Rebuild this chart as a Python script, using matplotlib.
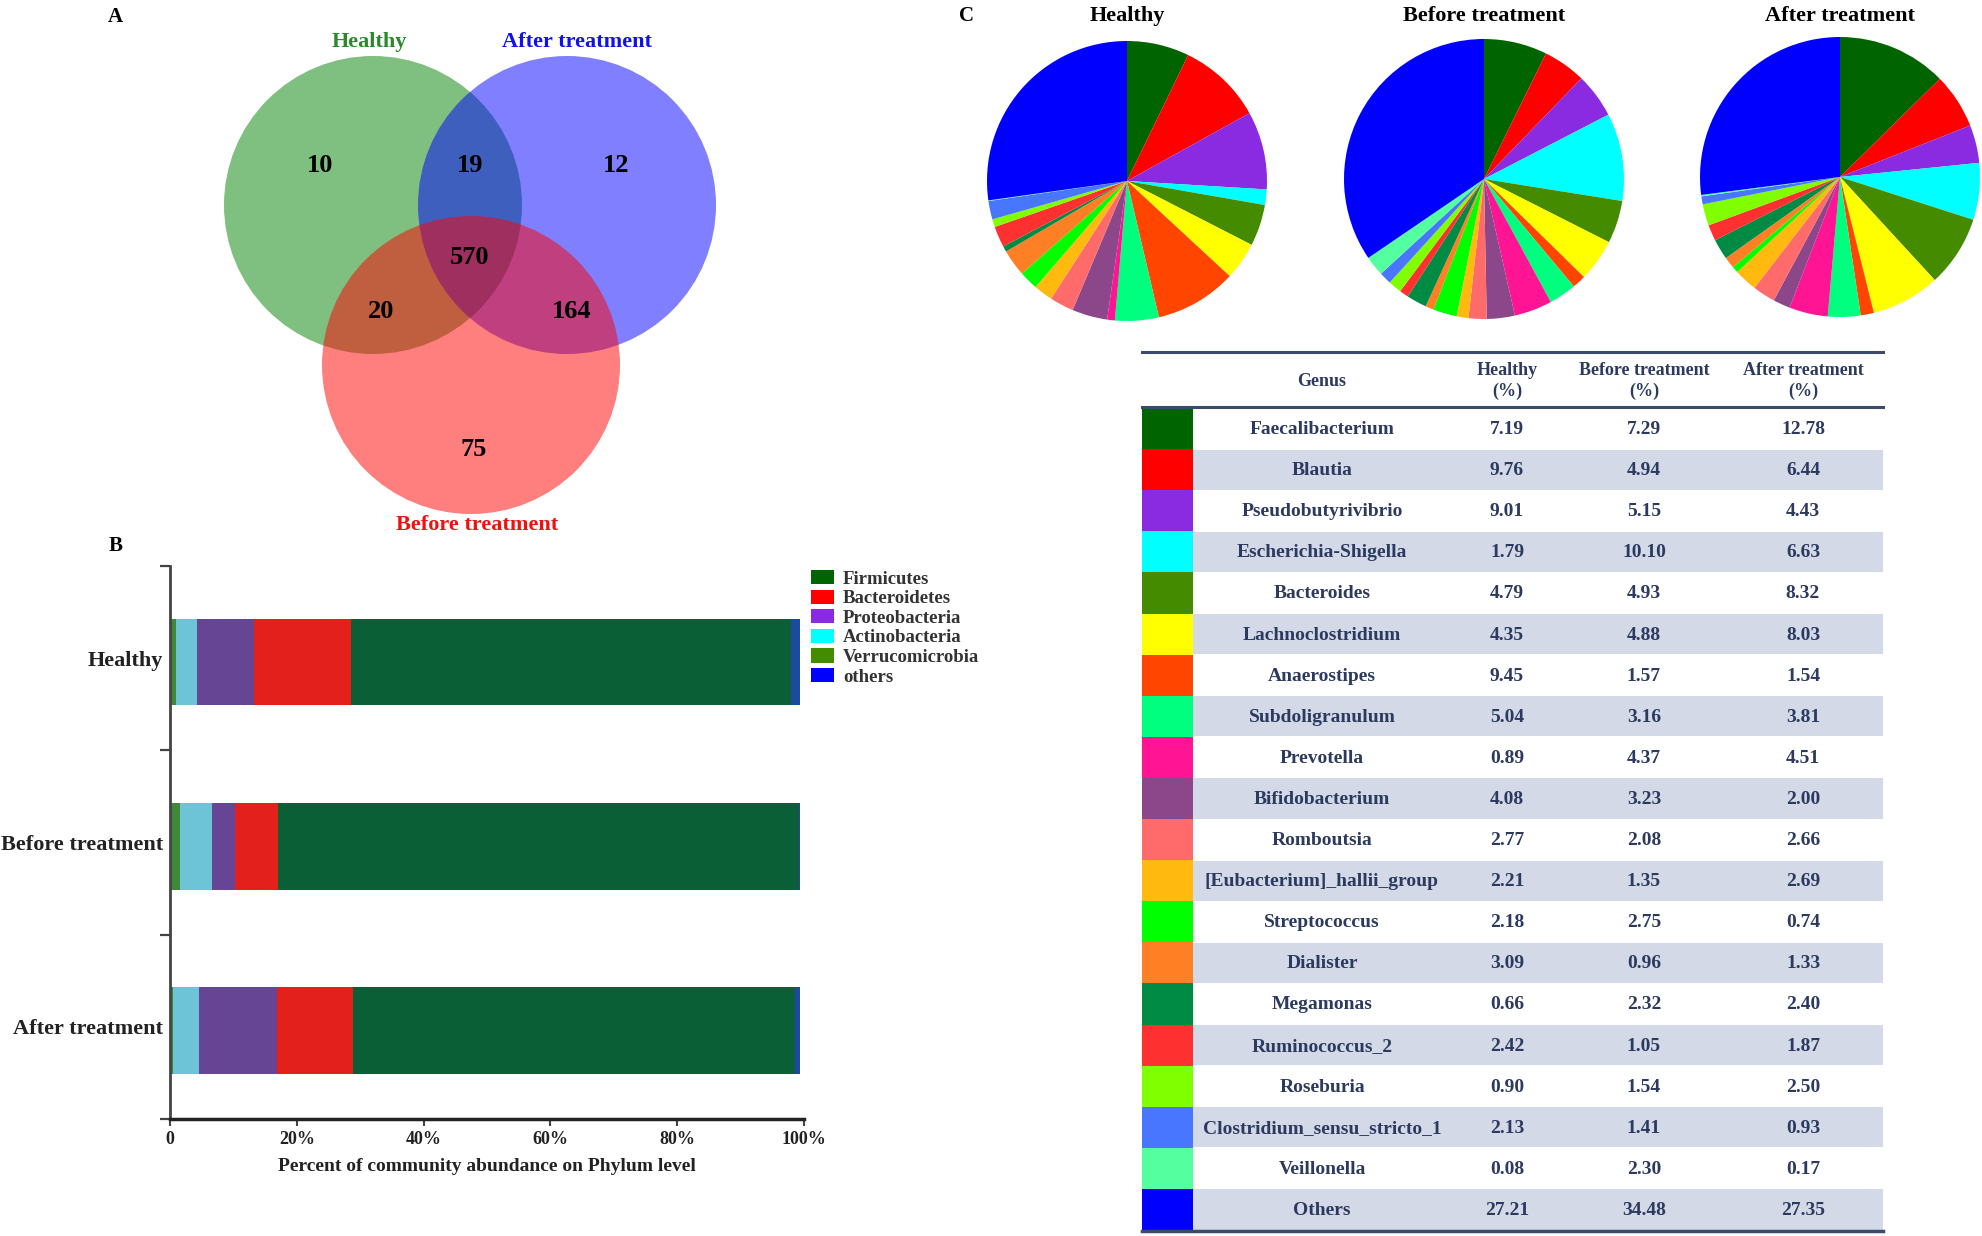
import numpy as np
import matplotlib.pyplot as plt
from matplotlib.patches import Circle, Rectangle, Patch

plt.rcParams['font.family'] = ['Liberation Serif', 'DejaVu Serif']
plt.rcParams['font.weight'] = 'bold'
plt.rcParams['axes.labelweight'] = 'bold'

W, H = 1982, 1236

# ---- panel A: Venn counts
VENN_NAMES = ['Healthy', 'After treatment', 'Before treatment']
VENN_COLORS = ['#008000', '#0000ff', '#ff0000']
VENN_LABEL_COLORS = ['#2a8a2a', '#1010f0', '#f01010']
VENN_REGIONS = ['H', 'HA', 'A', 'HAB', 'HB', 'AB', 'B']
VENN_COUNTS = [10, 19, 12, 570, 20, 164, 75]

# ---- panel B: phylum composition (%), drawn left to right
GROUPS = ['Healthy', 'Before treatment', 'After treatment']
PHYLA = ['Verrucomicrobia', 'Actinobacteria', 'Proteobacteria', 'Bacteroidetes', 'Firmicutes', 'others']
VERRUCO = [1.0, 1.6, 0.4]
ACTINO = [3.2, 5.1, 4.1]
PROTEO = [9.1, 3.5, 12.3]
BACTERO = [15.2, 6.9, 12.0]
FIRMI = [69.5, 82.1, 69.8]
OTHERS = [1.3, 0.2, 0.7]
BAR_COLORS = ['#3f8a3a', '#6cc4d6', '#664595', '#e3201b', '#0b5f36', '#1c4aa0']
LEGEND_ORDER = ['Firmicutes', 'Bacteroidetes', 'Proteobacteria', 'Actinobacteria', 'Verrucomicrobia', 'others']
LEGEND_COLORS = ['#006400', '#ff0000', '#8a2be2', '#00ffff', '#458b00', '#0000ff']

# ---- panel C: genus level (%)
GENERA = ['Faecalibacterium', 'Blautia', 'Pseudobutyrivibrio', 'Escherichia-Shigella', 'Bacteroides',
          'Lachnoclostridium', 'Anaerostipes', 'Subdoligranulum', 'Prevotella', 'Bifidobacterium',
          'Romboutsia', '[Eubacterium]_hallii_group', 'Streptococcus', 'Dialister', 'Megamonas',
          'Ruminococcus_2', 'Roseburia', 'Clostridium_sensu_stricto_1', 'Veillonella', 'Others']
HEALTHY = [7.19, 9.76, 9.01, 1.79, 4.79, 4.35, 9.45, 5.04, 0.89, 4.08,
           2.77, 2.21, 2.18, 3.09, 0.66, 2.42, 0.90, 2.13, 0.08, 27.21]
BEFORE = [7.29, 4.94, 5.15, 10.10, 4.93, 4.88, 1.57, 3.16, 4.37, 3.23,
          2.08, 1.35, 2.75, 0.96, 2.32, 1.05, 1.54, 1.41, 2.30, 34.48]
AFTER = [12.78, 6.44, 4.43, 6.63, 8.32, 8.03, 1.54, 3.81, 4.51, 2.00,
         2.66, 2.69, 0.74, 1.33, 2.40, 1.87, 2.50, 0.93, 0.17, 27.35]
GENUS_COLORS = ['#006400', '#ff0000', '#8a2be2', '#00ffff', '#458b00', '#ffff00', '#ff4500', '#00ff7f',
                '#ff1493', '#8b4789', '#ff6a6a', '#ffb90f', '#00ff00', '#ff7f24', '#008b45', '#ff3030',
                '#7fff00', '#4876ff', '#54ff9f', '#0000ff']

TXT = '#2d3a60'
LINE = '#3c4a6b'
SHADE = '#d3d9e7'


def px_rect(x0, y0, x1, y1):
    return [x0 / W, 1 - y1 / H, (x1 - x0) / W, (y1 - y0) / H]


fig = plt.figure(figsize=(W / 100, H / 100), dpi=100)

# ---------------- A: Venn
ax = fig.add_axes(px_rect(0, 0, 800, 545))
ax.set_xlim(0, 800)
ax.set_ylim(545, 0)
ax.axis('off')
circles = [((373, 205), 149), ((567, 205), 149), ((471, 365), 149)]
for (c, r), col in zip(circles, VENN_COLORS):
    ax.add_patch(Circle(c, r, facecolor=col, edgecolor='none', alpha=0.5))
label_pos = [(369, 42), (577, 42), (477, 525)]
for name, (x, y), col in zip(VENN_NAMES, label_pos, VENN_LABEL_COLORS):
    ax.text(x, y, name, color=col, fontsize=16, ha='center', va='center')
region_pos = {'H': (320, 165), 'HA': (470, 165), 'A': (616, 165), 'HAB': (470, 258),
              'HB': (381, 312), 'AB': (572, 312), 'B': (474, 449)}
for reg, n in zip(VENN_REGIONS, VENN_COUNTS):
    x, y = region_pos[reg]
    ax.text(x, y, str(n), fontsize=19, ha='center', va='center', color='black')
fig.text(115 / W, 1 - 17 / H, 'A', fontsize=15, ha='center', va='center')

# ---------------- B: stacked bars
axb = fig.add_axes(px_rect(170, 566, 804, 1119))
y = np.arange(len(GROUPS))
left = np.zeros(len(GROUPS))
for vals, col in zip([VERRUCO, ACTINO, PROTEO, BACTERO, FIRMI, OTHERS], BAR_COLORS):
    axb.barh(y + 0.02, vals, left=left, height=0.47, color=col, edgecolor='none')
    left += np.array(vals)
axb.set_xlim(0, 100)
axb.set_ylim(2.5, -0.5)
axb.set_yticks(y)
axb.set_yticklabels(GROUPS, fontsize=16, color='#222222', fontweight='bold')
axb.tick_params(axis='y', which='major', length=0, pad=5)
axb.set_yticks([-0.5, 0.5, 1.5, 2.5], minor=True)
axb.tick_params(axis='y', which='minor', length=7, width=1.6, color='#444444')
axb.set_xticks([0, 20, 40, 60, 80, 100])
axb.set_xticklabels(['0', '20%', '40%', '60%', '80%', '100%'], fontsize=13, color='#222222',
                    fontweight='bold')
axb.tick_params(axis='x', length=5, width=1.5, color='#444444', pad=4)
axb.set_xlabel('Percent of community abundance on Phylum level', fontsize=14, color='#222222',
               fontweight='bold', labelpad=7)
for s in ['top', 'right']:
    axb.spines[s].set_visible(False)
axb.spines['left'].set_linewidth(2)
axb.spines['left'].set_color('#444444')
axb.spines['bottom'].set_linewidth(2.5)
axb.spines['bottom'].set_color('#222222')
handles = [Patch(facecolor=c, edgecolor='none', label=l) for l, c in zip(LEGEND_ORDER, LEGEND_COLORS)]
fig.legend(handles=handles, loc='upper left', bbox_to_anchor=(811 / W, 1 - 570 / H), frameon=False,
           prop=dict(size=13.5, weight='bold'), labelspacing=0.1, handlelength=1.25, handleheight=0.8,
           handletextpad=0.45, borderpad=0, borderaxespad=0, labelcolor='#333333')
fig.text(116 / W, 1 - 546 / H, 'B', fontsize=15, ha='center', va='center')

# ---------------- C: pies
pie_pos = [(1127, 181), (1484, 179), (1840, 177)]
R = 140
for (cx, cy), name, vals in zip(pie_pos, GROUPS, [HEALTHY, BEFORE, AFTER]):
    axp = fig.add_axes(px_rect(cx - R, cy - R, cx + R, cy + R))
    axp.pie(vals, colors=GENUS_COLORS, startangle=90, counterclock=False, radius=1,
            wedgeprops=dict(linewidth=0))
    axp.set_xlim(-1, 1)
    axp.set_ylim(-1, 1)
    fig.text(cx / W, 1 - 16 / H, name, fontsize=16, ha='center', va='center')
fig.text(966 / W, 1 - 16 / H, 'C', fontsize=15, ha='center', va='center')

# ---------------- C: table
axt = fig.add_axes(px_rect(1135, 340, 1895, 1236))
axt.set_xlim(1135, 1895)
axt.set_ylim(1236, 340)
axt.axis('off')
x0, xs, x1 = 1142, 1193, 1883
row0, rh = 408, 41.1
col_x = [1322, 1507, 1644, 1803]
axt.plot([x0, x1], [352, 352], color=LINE, lw=2.2)
axt.plot([x0, x1], [407, 407], color=LINE, lw=2.2)
heads = ['Genus', 'Healthy\n(%)', 'Before treatment\n(%)', 'After treatment\n(%)']
for hx, h in zip(col_x, heads):
    axt.text(hx, 381, h, fontsize=13, ha='center', va='center', color=TXT, linespacing=1.3)
for i, g in enumerate(GENERA):
    top = row0 + i * rh
    axt.add_patch(Rectangle((x0, top), xs - x0, rh, facecolor=GENUS_COLORS[i], edgecolor='none'))
    if i % 2 == 1:
        axt.add_patch(Rectangle((xs, top + 0.5), x1 - xs, rh - 1, facecolor=SHADE, edgecolor='none'))
    yc = top + rh / 2 + 1
    axt.text(col_x[0], yc, g, fontsize=14, ha='center', va='center', color=TXT)
    for cxv, v in zip(col_x[1:], [HEALTHY[i], BEFORE[i], AFTER[i]]):
        axt.text(cxv, yc, f'{v:.2f}', fontsize=14, ha='center', va='center', color=TXT)
axt.plot([x0, x1], [row0 + 20 * rh + 1, row0 + 20 * rh + 1], color=LINE, lw=2.5)

fig.savefig('out.png', dpi=100)
